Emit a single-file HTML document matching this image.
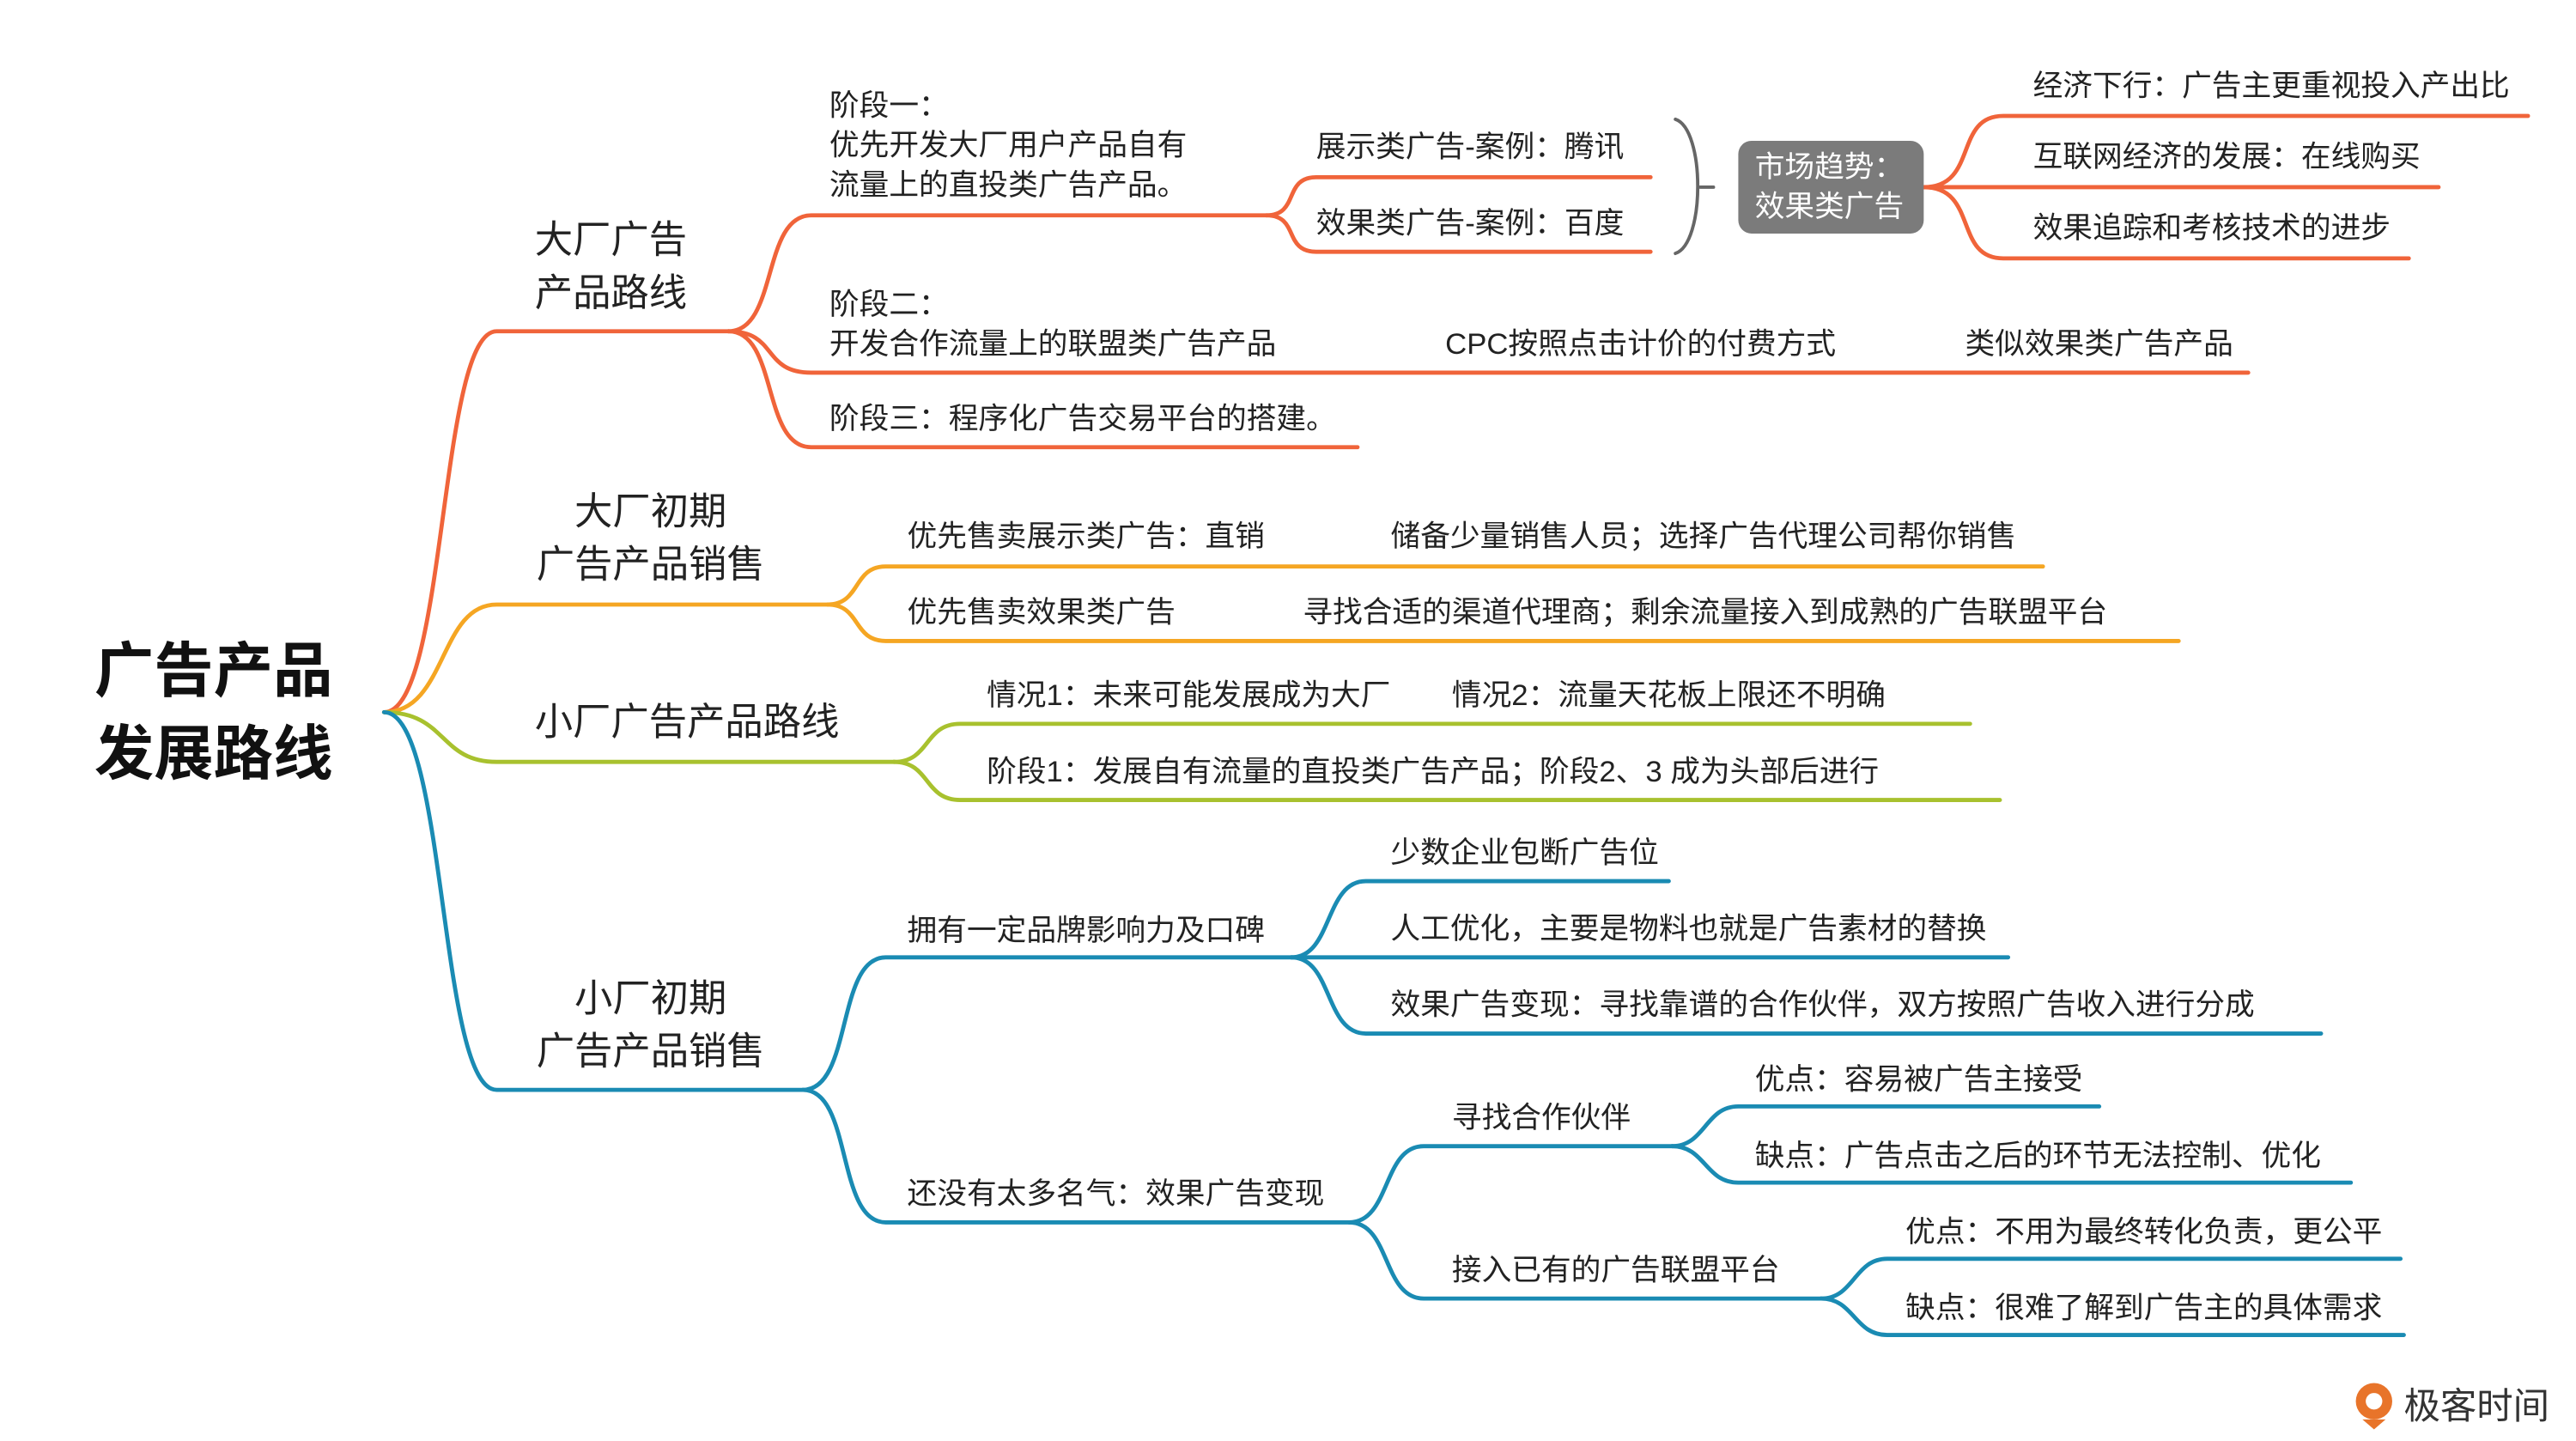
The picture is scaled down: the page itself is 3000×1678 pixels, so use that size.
<!DOCTYPE html>
<html><head><meta charset="utf-8"><style>
html,body{margin:0;padding:0;background:#fff;}
svg{display:block;}
text{font-family:"Liberation Sans","Noto Sans CJK SC",sans-serif;fill:#222;dominant-baseline:central;}
.s{font-size:18px;}
.b{font-size:23px;}
</style></head><body>
<svg width="3000" height="1678" viewBox="0 0 1556 870" preserveAspectRatio="none" xmlns="http://www.w3.org/2000/svg">
<g fill="none" stroke-linecap="round">
<g stroke="#F0643A" stroke-width="2.5">
<path d="M232 430 C270 430 265 200 300 200 L440 200"/>
<path d="M440 200 C470 200 460 130 490 130 L765 130"/>
<path d="M440 200 C470 200 460 225 490 225 L1358 225"/>
<path d="M440 200 C470 200 460 270 490 270 L820 270"/>
<path d="M765 130 C785 130 775 107 795 107 L997 107"/>
<path d="M765 130 C785 130 775 152 795 152 L997 152"/>
<path d="M1162 113 C1195 113 1180 70 1210 70 L1527 70"/>
<path d="M1162 113 L1473 113"/>
<path d="M1162 113 C1195 113 1180 156 1210 156 L1455 156"/>
</g>
<path d="M1012 72 C1030 78 1030 147 1012 153 M1027 113 L1035 113" stroke="#666" stroke-width="2"/>
<g stroke="#F5A623" stroke-width="2.5">
<path d="M232 430 C270 430 265 365 300 365 L500 365"/>
<path d="M500 365 C520 365 515 342 535 342 L1234 342"/>
<path d="M500 365 C520 365 515 387 535 387 L1316 387"/>
</g>
<g stroke="#A8C12E" stroke-width="2.5">
<path d="M232 430 C270 430 265 460 300 460 L540 460"/>
<path d="M540 460 C562 460 558 437 580 437 L1190 437"/>
<path d="M540 460 C562 460 558 483 580 483 L1208 483"/>
</g>
<g stroke="#1A8BB3" stroke-width="2.5">
<path d="M232 430 C270 430 265 658 300 658 L485 658"/>
<path d="M485 658 C515 658 505 578 535 578 L780 578"/>
<path d="M485 658 C515 658 505 738 535 738 L815 738"/>
<path d="M780 578 C805 578 800 532 825 532 L1008 532"/>
<path d="M780 578 L1213 578"/>
<path d="M780 578 C805 578 800 624 825 624 L1402 624"/>
<path d="M815 738 C840 738 835 692 860 692 L1010 692"/>
<path d="M815 738 C840 738 835 784 860 784 L1100 784"/>
<path d="M1010 692 C1030 692 1030 668 1050 668 L1268 668"/>
<path d="M1010 692 C1030 692 1030 714 1050 714 L1420 714"/>
<path d="M1100 784 C1120 784 1120 760 1140 760 L1450 760"/>
<path d="M1100 784 C1120 784 1120 806 1140 806 L1452 806"/>
</g>
</g>
<rect x="1050" y="85" width="112" height="56" rx="8" fill="#7b7b7b"/>
<text x="1060" y="101" class="s" style="fill:#fff">市场趋势：</text>
<text x="1060" y="125" class="s" style="fill:#fff">效果类广告</text>

<text x="57" y="405" style="font-size:36px;font-weight:bold;fill:#111">广告产品</text>
<text x="57" y="455" style="font-size:36px;font-weight:bold;fill:#111">发展路线</text>

<text x="323" y="145" class="b">大厂广告</text>
<text x="323" y="177" class="b">产品路线</text>
<text x="393" y="309" class="b" text-anchor="middle">大厂初期</text>
<text x="393" y="341" class="b" text-anchor="middle">广告产品销售</text>
<text x="323" y="436" class="b">小厂广告产品路线</text>
<text x="393" y="603" class="b" text-anchor="middle">小厂初期</text>
<text x="393" y="635" class="b" text-anchor="middle">广告产品销售</text>

<text x="501" y="64" class="s">阶段一：</text>
<text x="501" y="88" class="s">优先开发大厂用户产品自有</text>
<text x="501" y="112" class="s">流量上的直投类广告产品。</text>
<text x="795" y="89" class="s">展示类广告-案例：腾讯</text>
<text x="795" y="135" class="s">效果类广告-案例：百度</text>
<text x="1228" y="52" class="s">经济下行：广告主更重视投入产出比</text>
<text x="1228" y="95" class="s">互联网经济的发展：在线购买</text>
<text x="1228" y="138" class="s">效果追踪和考核技术的进步</text>
<text x="501" y="184" class="s">阶段二：</text>
<text x="501" y="208" class="s">开发合作流量上的联盟类广告产品</text>
<text x="873" y="208" class="s">CPC按照点击计价的付费方式</text>
<text x="1187" y="208" class="s">类似效果类广告产品</text>
<text x="501" y="253" class="s">阶段三：程序化广告交易平台的搭建。</text>

<text x="548" y="324" class="s">优先售卖展示类广告：直销</text>
<text x="840" y="324" class="s">储备少量销售人员；选择广告代理公司帮你销售</text>
<text x="548" y="370" class="s">优先售卖效果类广告</text>
<text x="787" y="370" class="s">寻找合适的渠道代理商；剩余流量接入到成熟的广告联盟平台</text>

<text x="596" y="420" class="s">情况1：未来可能发展成为大厂</text>
<text x="877" y="420" class="s">情况2：流量天花板上限还不明确</text>
<text x="596" y="466" class="s">阶段1：发展自有流量的直投类广告产品；阶段2、3 成为头部后进行</text>

<text x="548" y="562" class="s">拥有一定品牌影响力及口碑</text>
<text x="840" y="515" class="s">少数企业包断广告位</text>
<text x="840" y="561" class="s">人工优化，主要是物料也就是广告素材的替换</text>
<text x="840" y="607" class="s">效果广告变现：寻找靠谱的合作伙伴，双方按照广告收入进行分成</text>
<text x="548" y="721" class="s">还没有太多名气：效果广告变现</text>
<text x="877" y="675" class="s">寻找合作伙伴</text>
<text x="1060" y="652" class="s">优点：容易被广告主接受</text>
<text x="1060" y="698" class="s">缺点：广告点击之后的环节无法控制、优化</text>
<text x="877" y="767" class="s">接入已有的广告联盟平台</text>
<text x="1151" y="744" class="s">优点：不用为最终转化负责，更公平</text>
<text x="1151" y="790" class="s">缺点：很难了解到广告主的具体需求</text>

<circle cx="1434" cy="846" r="11" fill="#E8742A"/>
<circle cx="1434" cy="846" r="5" fill="#fff"/>
<path d="M1427 857 L1434 863 L1441 857 Z" fill="#E8742A"/>
<text x="1452" y="849" style="font-size:22px;fill:#333">极客时间</text>
</svg>
</body></html>
